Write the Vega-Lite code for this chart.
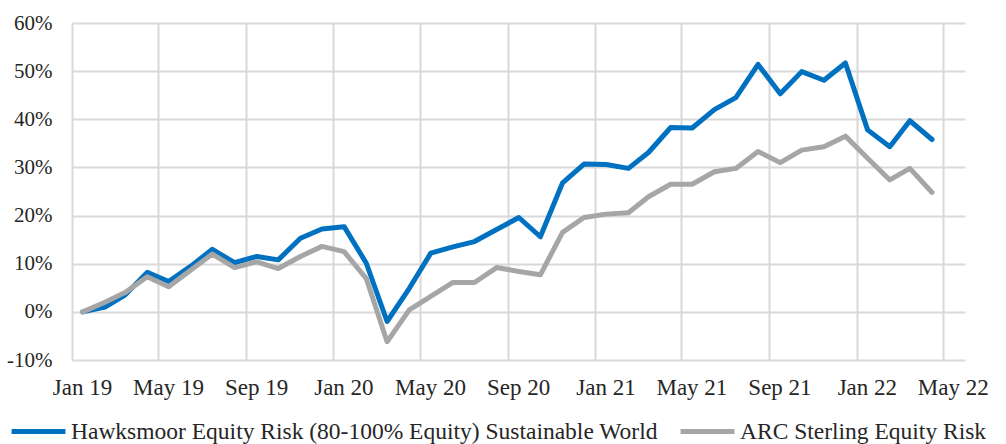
{
  "$schema": "https://vega.github.io/schema/vega-lite/v6.json",
  "width": 893,
  "height": 337,
  "autosize": {"type": "none"},
  "padding": {"left": 72, "top": 23, "right": 41, "bottom": 84},
  "background": "white",
  "config": {
    "view": {"stroke": null},
    "font": "Liberation Serif",
    "axis": {"labelFont": "Liberation Serif", "labelFontSize": 21, "labelColor": "#262626", "gridColor": "#D9D9D9", "gridWidth": 2, "domain": false, "ticks": false},
    "legend": {"labelFont": "Liberation Serif", "labelFontSize": 23.5, "labelColor": "#262626"}
  },
  "data": {
    "values": [
      {"date": "2019-01-16", "series": "Hawksmoor Equity Risk (80-100% Equity) Sustainable World", "value": 0},
      {"date": "2019-02-16", "series": "Hawksmoor Equity Risk (80-100% Equity) Sustainable World", "value": 1.0},
      {"date": "2019-03-16", "series": "Hawksmoor Equity Risk (80-100% Equity) Sustainable World", "value": 3.5},
      {"date": "2019-04-16", "series": "Hawksmoor Equity Risk (80-100% Equity) Sustainable World", "value": 8.2},
      {"date": "2019-05-16", "series": "Hawksmoor Equity Risk (80-100% Equity) Sustainable World", "value": 6.3},
      {"date": "2019-06-16", "series": "Hawksmoor Equity Risk (80-100% Equity) Sustainable World", "value": 9.5},
      {"date": "2019-07-16", "series": "Hawksmoor Equity Risk (80-100% Equity) Sustainable World", "value": 13.0},
      {"date": "2019-08-16", "series": "Hawksmoor Equity Risk (80-100% Equity) Sustainable World", "value": 10.2},
      {"date": "2019-09-16", "series": "Hawksmoor Equity Risk (80-100% Equity) Sustainable World", "value": 11.5},
      {"date": "2019-10-16", "series": "Hawksmoor Equity Risk (80-100% Equity) Sustainable World", "value": 10.8},
      {"date": "2019-11-16", "series": "Hawksmoor Equity Risk (80-100% Equity) Sustainable World", "value": 15.3},
      {"date": "2019-12-16", "series": "Hawksmoor Equity Risk (80-100% Equity) Sustainable World", "value": 17.2},
      {"date": "2020-01-16", "series": "Hawksmoor Equity Risk (80-100% Equity) Sustainable World", "value": 17.7},
      {"date": "2020-02-16", "series": "Hawksmoor Equity Risk (80-100% Equity) Sustainable World", "value": 10.1},
      {"date": "2020-03-16", "series": "Hawksmoor Equity Risk (80-100% Equity) Sustainable World", "value": -2.0},
      {"date": "2020-04-16", "series": "Hawksmoor Equity Risk (80-100% Equity) Sustainable World", "value": 4.9},
      {"date": "2020-05-16", "series": "Hawksmoor Equity Risk (80-100% Equity) Sustainable World", "value": 12.2},
      {"date": "2020-06-16", "series": "Hawksmoor Equity Risk (80-100% Equity) Sustainable World", "value": 13.5},
      {"date": "2020-07-16", "series": "Hawksmoor Equity Risk (80-100% Equity) Sustainable World", "value": 14.6},
      {"date": "2020-08-16", "series": "Hawksmoor Equity Risk (80-100% Equity) Sustainable World", "value": 17.1},
      {"date": "2020-09-16", "series": "Hawksmoor Equity Risk (80-100% Equity) Sustainable World", "value": 19.6},
      {"date": "2020-10-16", "series": "Hawksmoor Equity Risk (80-100% Equity) Sustainable World", "value": 15.6},
      {"date": "2020-11-16", "series": "Hawksmoor Equity Risk (80-100% Equity) Sustainable World", "value": 26.8},
      {"date": "2020-12-16", "series": "Hawksmoor Equity Risk (80-100% Equity) Sustainable World", "value": 30.7},
      {"date": "2021-01-16", "series": "Hawksmoor Equity Risk (80-100% Equity) Sustainable World", "value": 30.6},
      {"date": "2021-02-16", "series": "Hawksmoor Equity Risk (80-100% Equity) Sustainable World", "value": 29.8},
      {"date": "2021-03-16", "series": "Hawksmoor Equity Risk (80-100% Equity) Sustainable World", "value": 33.1},
      {"date": "2021-04-16", "series": "Hawksmoor Equity Risk (80-100% Equity) Sustainable World", "value": 38.3},
      {"date": "2021-05-16", "series": "Hawksmoor Equity Risk (80-100% Equity) Sustainable World", "value": 38.2},
      {"date": "2021-06-16", "series": "Hawksmoor Equity Risk (80-100% Equity) Sustainable World", "value": 42.0},
      {"date": "2021-07-16", "series": "Hawksmoor Equity Risk (80-100% Equity) Sustainable World", "value": 44.5},
      {"date": "2021-08-16", "series": "Hawksmoor Equity Risk (80-100% Equity) Sustainable World", "value": 51.4},
      {"date": "2021-09-16", "series": "Hawksmoor Equity Risk (80-100% Equity) Sustainable World", "value": 45.3},
      {"date": "2021-10-16", "series": "Hawksmoor Equity Risk (80-100% Equity) Sustainable World", "value": 49.9},
      {"date": "2021-11-16", "series": "Hawksmoor Equity Risk (80-100% Equity) Sustainable World", "value": 48.1},
      {"date": "2021-12-16", "series": "Hawksmoor Equity Risk (80-100% Equity) Sustainable World", "value": 51.7},
      {"date": "2022-01-16", "series": "Hawksmoor Equity Risk (80-100% Equity) Sustainable World", "value": 37.8},
      {"date": "2022-02-16", "series": "Hawksmoor Equity Risk (80-100% Equity) Sustainable World", "value": 34.3},
      {"date": "2022-03-16", "series": "Hawksmoor Equity Risk (80-100% Equity) Sustainable World", "value": 39.7},
      {"date": "2022-04-16", "series": "Hawksmoor Equity Risk (80-100% Equity) Sustainable World", "value": 35.8},
      {"date": "2019-01-16", "series": "ARC Sterling Equity Risk", "value": 0},
      {"date": "2019-02-16", "series": "ARC Sterling Equity Risk", "value": 2.0},
      {"date": "2019-03-16", "series": "ARC Sterling Equity Risk", "value": 4.0},
      {"date": "2019-04-16", "series": "ARC Sterling Equity Risk", "value": 7.3},
      {"date": "2019-05-16", "series": "ARC Sterling Equity Risk", "value": 5.2},
      {"date": "2019-06-16", "series": "ARC Sterling Equity Risk", "value": 8.7},
      {"date": "2019-07-16", "series": "ARC Sterling Equity Risk", "value": 12.0},
      {"date": "2019-08-16", "series": "ARC Sterling Equity Risk", "value": 9.2},
      {"date": "2019-09-16", "series": "ARC Sterling Equity Risk", "value": 10.4},
      {"date": "2019-10-16", "series": "ARC Sterling Equity Risk", "value": 9.0},
      {"date": "2019-11-16", "series": "ARC Sterling Equity Risk", "value": 11.5},
      {"date": "2019-12-16", "series": "ARC Sterling Equity Risk", "value": 13.6},
      {"date": "2020-01-16", "series": "ARC Sterling Equity Risk", "value": 12.5},
      {"date": "2020-02-16", "series": "ARC Sterling Equity Risk", "value": 6.9},
      {"date": "2020-03-16", "series": "ARC Sterling Equity Risk", "value": -6.2},
      {"date": "2020-04-16", "series": "ARC Sterling Equity Risk", "value": 0.4},
      {"date": "2020-05-16", "series": "ARC Sterling Equity Risk", "value": 3.2},
      {"date": "2020-06-16", "series": "ARC Sterling Equity Risk", "value": 6.1},
      {"date": "2020-07-16", "series": "ARC Sterling Equity Risk", "value": 6.1},
      {"date": "2020-08-16", "series": "ARC Sterling Equity Risk", "value": 9.2},
      {"date": "2020-09-16", "series": "ARC Sterling Equity Risk", "value": 8.4},
      {"date": "2020-10-16", "series": "ARC Sterling Equity Risk", "value": 7.7},
      {"date": "2020-11-16", "series": "ARC Sterling Equity Risk", "value": 16.5},
      {"date": "2020-12-16", "series": "ARC Sterling Equity Risk", "value": 19.6},
      {"date": "2021-01-16", "series": "ARC Sterling Equity Risk", "value": 20.3},
      {"date": "2021-02-16", "series": "ARC Sterling Equity Risk", "value": 20.6},
      {"date": "2021-03-16", "series": "ARC Sterling Equity Risk", "value": 23.9},
      {"date": "2021-04-16", "series": "ARC Sterling Equity Risk", "value": 26.5},
      {"date": "2021-05-16", "series": "ARC Sterling Equity Risk", "value": 26.5},
      {"date": "2021-06-16", "series": "ARC Sterling Equity Risk", "value": 29.1},
      {"date": "2021-07-16", "series": "ARC Sterling Equity Risk", "value": 29.8},
      {"date": "2021-08-16", "series": "ARC Sterling Equity Risk", "value": 33.3},
      {"date": "2021-09-16", "series": "ARC Sterling Equity Risk", "value": 31.0},
      {"date": "2021-10-16", "series": "ARC Sterling Equity Risk", "value": 33.6},
      {"date": "2021-11-16", "series": "ARC Sterling Equity Risk", "value": 34.3},
      {"date": "2021-12-16", "series": "ARC Sterling Equity Risk", "value": 36.5},
      {"date": "2022-01-16", "series": "ARC Sterling Equity Risk", "value": 31.9},
      {"date": "2022-02-16", "series": "ARC Sterling Equity Risk", "value": 27.4},
      {"date": "2022-03-16", "series": "ARC Sterling Equity Risk", "value": 29.8},
      {"date": "2022-04-16", "series": "ARC Sterling Equity Risk", "value": 24.8}
    ],
    "format": {"parse": {"date": "date:'%Y-%m-%d'"}}
  },
  "mark": {"type": "line", "strokeWidth": 5, "strokeJoin": "round", "strokeCap": "round"},
  "encoding": {
    "x": {
      "field": "date",
      "type": "temporal",
      "scale": {"domain": [{"year": 2019, "month": 1, "date": 1}, {"year": 2022, "month": 6, "date": 1}]},
      "axis": {
        "title": null,
        "values": [
          {"year": 2019, "month": 1, "date": 1}, {"year": 2019, "month": 5, "date": 1}, {"year": 2019, "month": 9, "date": 1},
          {"year": 2020, "month": 1, "date": 1}, {"year": 2020, "month": 5, "date": 1}, {"year": 2020, "month": 9, "date": 1},
          {"year": 2021, "month": 1, "date": 1}, {"year": 2021, "month": 5, "date": 1}, {"year": 2021, "month": 9, "date": 1},
          {"year": 2022, "month": 1, "date": 1}, {"year": 2022, "month": 5, "date": 1}
        ],
        "format": "%b %y",
        "labelFontSize": 23,
        "labelOffset": 10,
        "labelPadding": 16,
        "labelFlush": false,
        "labelOverlap": false
      }
    },
    "y": {
      "field": "value",
      "type": "quantitative",
      "scale": {"domain": [-10, 60], "nice": false, "zero": false},
      "axis": {
        "title": null,
        "values": [-10, 0, 10, 20, 30, 40, 50, 60],
        "labelExpr": "datum.value + '%'",
        "labelPadding": 20
      }
    },
    "color": {
      "field": "series",
      "type": "nominal",
      "sort": null,
      "scale": {
        "domain": ["Hawksmoor Equity Risk (80-100% Equity) Sustainable World", "ARC Sterling Equity Risk"],
        "range": ["#0070C0", "#A6A6A6"]
      },
      "legend": {
        "title": null,
        "orient": "none",
        "legendX": -63,
        "legendY": 379,
        "direction": "horizontal",
        "symbolType": "stroke",
        "symbolSize": 2900,
        "symbolStrokeWidth": 5,
        "labelOffset": 3,
        "labelLimit": 1000,
        "columnPadding": 12
      }
    }
  }
}
